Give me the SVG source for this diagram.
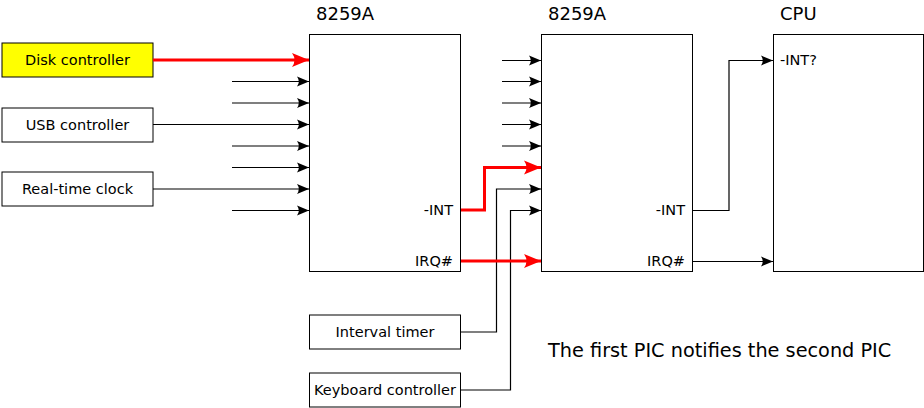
<svg xmlns="http://www.w3.org/2000/svg" width="924" height="408" viewBox="0 0 924 408">
<style>
.box{fill:#fff;stroke:#000;stroke-width:1}
.t{font-family:"DejaVu Sans",sans-serif;font-size:14.5px;fill:#000}
.h{font-family:"DejaVu Sans",sans-serif;font-size:18px;fill:#000}
.n{font-family:"DejaVu Sans",sans-serif;font-size:19.3px;fill:#000}
.c{fill:none;stroke:#000;stroke-width:1.2}
.r{fill:none;stroke:#f00;stroke-width:3}
</style>
<defs>
<marker id="ab" markerUnits="userSpaceOnUse" markerWidth="14" markerHeight="12" viewBox="-13 -6 14 12" refX="0" refY="0" orient="auto" overflow="visible">
<path d="M0,0 L-12,-5 Q-8.5,0 -12,5 Z" fill="#000"/>
</marker>
<marker id="ar" markerUnits="userSpaceOnUse" markerWidth="20" markerHeight="16" viewBox="-19 -8 20 16" refX="0" refY="0" orient="auto" overflow="visible">
<path d="M0,0 L-17,-7 Q-12,0 -17,7 Z" fill="#f00"/>
</marker>
</defs>
<g id="disk"><rect x="2" y="43" width="151" height="34" fill="#ff0" stroke="#000"/><text class="t" x="77.5" y="65" text-anchor="middle">Disk controller</text></g>
<g id="usb"><rect class="box" x="2" y="108" width="151" height="34"/><text class="t" x="77.5" y="130" text-anchor="middle">USB controller</text></g>
<g id="rtc"><rect class="box" x="2" y="172" width="151" height="34"/><text class="t" x="77.5" y="194" text-anchor="middle">Real-time clock</text></g>
<g id="pic1"><rect class="box" x="309.5" y="34.5" width="151" height="237"/><text class="h" x="316" y="20">8259A</text><text class="t" x="453" y="215" text-anchor="end">-INT</text><text class="t" x="453" y="266" text-anchor="end">IRQ#</text></g>
<g id="pic2"><rect class="box" x="541.5" y="34.5" width="151" height="237"/><text class="h" x="548" y="20">8259A</text><text class="t" x="685" y="215" text-anchor="end">-INT</text><text class="t" x="685" y="266" text-anchor="end">IRQ#</text></g>
<g id="cpu"><rect class="box" x="773.5" y="34.5" width="150" height="237"/><text class="h" x="780" y="20">CPU</text><text class="t" x="780" y="65">-INT?</text></g>
<g id="timer"><rect class="box" x="309.5" y="315" width="151" height="34"/><text class="t" x="385" y="337" text-anchor="middle">Interval timer</text></g>
<g id="kbd"><rect class="box" x="309.5" y="373" width="151" height="34"/><text class="t" x="385" y="395" text-anchor="middle">Keyboard controller</text></g>
<g id="note"><text class="n" x="548" y="357">The first PIC notifies the second PIC</text></g>
<g id="connectors">
<path class="r" d="M153,60 H309" marker-end="url(#ar)"/>
<path class="c" d="M232,81.5 H309" marker-end="url(#ab)"/>
<path class="c" d="M232,103 H309" marker-end="url(#ab)"/>
<path class="c" d="M153,124.5 H309" marker-end="url(#ab)"/>
<path class="c" d="M232,146 H309" marker-end="url(#ab)"/>
<path class="c" d="M232,167.5 H309" marker-end="url(#ab)"/>
<path class="c" d="M153,189 H309" marker-end="url(#ab)"/>
<path class="c" d="M232,210.5 H309" marker-end="url(#ab)"/>
<path class="c" d="M502,60.5 H541" marker-end="url(#ab)"/>
<path class="c" d="M502,81.5 H541" marker-end="url(#ab)"/>
<path class="c" d="M502,103 H541" marker-end="url(#ab)"/>
<path class="c" d="M502,124.5 H541" marker-end="url(#ab)"/>
<path class="c" d="M502,146 H541" marker-end="url(#ab)"/>
<path class="r" d="M461,210 H484.5 V167.5 H541" marker-end="url(#ar)"/>
<path class="c" d="M461,332 H496.5 V189 H541" marker-end="url(#ab)"/>
<path class="c" d="M461,390 H510.5 V210.5 H541" marker-end="url(#ab)"/>
<path class="r" d="M461,261 H541" marker-end="url(#ar)"/>
<path class="c" d="M693,210.5 H729 V60.5 H773" marker-end="url(#ab)"/>
<path class="c" d="M693,261.5 H773" marker-end="url(#ab)"/>
</g>
</svg>
